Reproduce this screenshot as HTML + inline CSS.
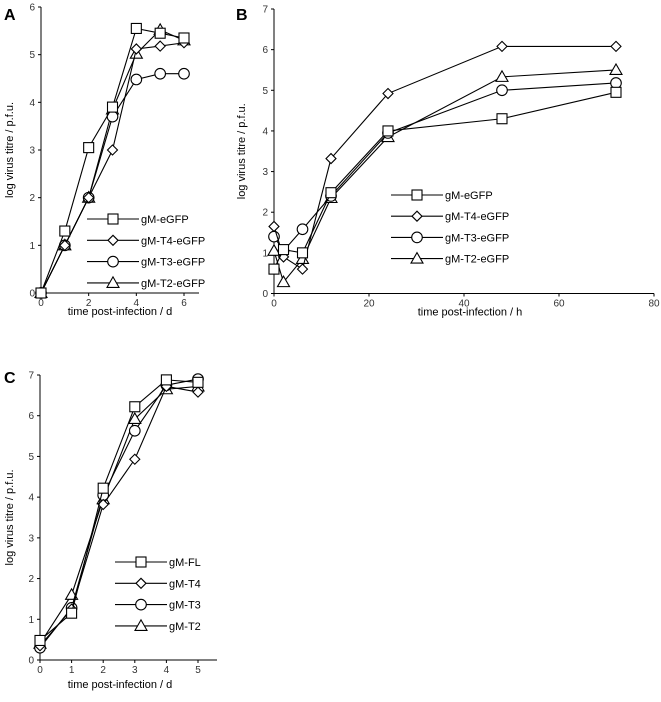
<!DOCTYPE html>
<html><head><meta charset="utf-8">
<style>
body{margin:0;background:#fff;}
svg{display:block;font-family:"Liberation Sans",sans-serif;}
</style></head>
<body>
<svg id="fig" width="661" height="702" viewBox="0 0 661 702" xmlns="http://www.w3.org/2000/svg"></svg>
<script>
// Panel A data
const aDays = [0,1,2,3,4,5,6];
const aEGFP = [0,1.3,3.05,3.9,5.55,5.45,5.35];
const aT4 = [0,1,2,3,5.12,5.18,5.25];
const aT3 = [0,1,2,3.7,4.48,4.6,4.6];
const aT2 = [0,1,2,3.85,5.02,5.52,5.3];
const aNames = ["gM-eGFP","gM-T4-eGFP","gM-T3-eGFP","gM-T2-eGFP"];
const aXTicks = [0,2,4,6];
const aYTicks = [0,1,2,3,4,5,6];
// Panel B data
const bHours = [0,2,6,12,24,48,72];
const bEGFP = [0.6,1.08,1.0,2.48,4.0,4.3,4.95];
const bT4 = [1.65,0.9,0.6,3.32,4.92,6.08,6.08];
const bT3 = [1.4,1.05,1.58,2.4,3.95,5.0,5.18];
const bT2 = [1.05,0.28,0.85,2.35,3.85,5.33,5.5];
const bNames = ["gM-eGFP","gM-T4-eGFP","gM-T3-eGFP","gM-T2-eGFP"];
const bXTicks = [0,20,40,60,80];
const bYTicks = [0,1,2,3,4,5,6,7];
// Panel C data
const cDays = [0,1,2,3,4,5];
const cFL = [0.48,1.15,4.22,6.22,6.88,6.82];
const cT4 = [0.35,1.25,3.82,4.93,6.72,6.58];
const cT3 = [0.3,1.28,4.05,5.63,6.75,6.9];
const cT2 = [0.4,1.6,3.95,5.92,6.65,6.72];
const cNames = ["gM-FL","gM-T4","gM-T3","gM-T2"];
const cXTicks = [0,1,2,3,4,5];
const cYTicks = [0,1,2,3,4,5,6,7];

const NS="http://www.w3.org/2000/svg";
const svg=document.getElementById('fig');
function mk(tag,attrs,parent){const e=document.createElementNS(NS,tag);for(const k in attrs)e.setAttribute(k,attrs[k]);(parent||svg).appendChild(e);return e;}
const shapes=["square","diamond","circle","triangle"];
function marker(g,shape,x,y){
  let e;
  if(shape==="square") e=mk('rect',{x:x-5,y:y-5,width:10,height:10},g);
  else if(shape==="diamond") e=mk('polygon',{points:`${x},${y-5} ${x+5},${y} ${x},${y+5} ${x-5},${y}`},g);
  else if(shape==="circle") e=mk('circle',{cx:x,cy:y,r:5.3},g);
  else e=mk('polygon',{points:`${x},${y-6} ${x+6},${y+4.5} ${x-6},${y+4.5}`},g);
  e.setAttribute('fill','#fff');e.setAttribute('stroke','#000');e.setAttribute('stroke-width','1.1');
  
  
  return e;
}
function panel(p){
  const g=mk('g',{});
  
  
  const sx=v=>p.x0+(v-p.xmin)/(p.xmax-p.xmin)*(p.x1-p.x0);
  const sy=v=>p.y0-(v-p.ymin)/(p.ymax-p.ymin)*(p.y0-p.y1);
  const lab=mk('text',{x:p.lx,y:p.ly,'font-size':16,'font-weight':'bold'},g);lab.textContent=p.id;
  
  const ya=mk('line',{x1:p.x0,y1:p.y0,x2:p.x0,y2:p.y1,stroke:'#000','stroke-width':1},g);
  
  const xa=mk('line',{x1:p.x0,y1:p.y0,x2:p.xend,y2:p.y0,stroke:'#000','stroke-width':1},g);
  
  p.yt.forEach(v=>{const y=sy(v);mk('line',{x1:p.x0-3,y1:y,x2:p.x0,y2:y,stroke:'#000'},g);
    const t=mk('text',{x:p.x0-6,y:y+3.5,'font-size':10,'text-anchor':'end',fill:'#333'},g);t.textContent=v;
    });
  p.xt.forEach(v=>{const x=sx(v);mk('line',{x1:x,y1:p.y0,x2:x,y2:p.y0+3,stroke:'#000'},g);
    const t=mk('text',{x:x,y:p.y0+13,'font-size':10,'text-anchor':'middle',fill:'#333'},g);t.textContent=v;
    });
  const xt=mk('text',{x:p.xtx,y:p.y0+p.xtdy,'font-size':11,'text-anchor':'middle'},g);xt.textContent=p.xtitle;
  
  const yc=(p.y0+p.y1)/2;
  const yt=mk('text',{x:p.ytx,y:yc,'font-size':11,'text-anchor':'middle',transform:`rotate(-90 ${p.ytx} ${yc})`},g);yt.textContent='log virus titre / p.f.u.';
  
  for(let i=p.series.length-1;i>=0;i--){
    const s=p.series[i];
    const sg=mk('g',{},g);
    
    
    const pl=mk('polyline',{points:p.xs.map((x,j)=>sx(x)+','+sy(s[j])).join(' '),fill:'none',stroke:'#000','stroke-width':1.1},sg);
    
    p.xs.forEach((x,j)=>marker(sg,shapes[i],sx(x),sy(s[j])));
  }
  const lg=mk('g',{},g);
  
  p.names.forEach((n,i)=>{
    const y=p.legY+i*p.legDy;
    const eg=mk('g',{},lg);
    
    mk('line',{x1:p.legX,y1:y,x2:p.legX+52,y2:y,stroke:'#000','stroke-width':1.1},eg);
    marker(eg,shapes[i],p.legX+26,y);
    const t=mk('text',{x:p.legX+54,y:y+4,'font-size':11},eg);t.textContent=n;
    
  });
}
panel({id:'A',lx:4,ly:20,x0:41,x1:184,xmin:0,xmax:6,xend:199,y0:293,y1:7,ymin:0,ymax:6,
  xt:aXTicks,yt:aYTicks,xs:aDays,series:[aEGFP,aT4,aT3,aT2],names:aNames,
  xtitle:'time post-infection / d',xtx:120,xtdy:22,ytx:13,legX:87,legY:219,legDy:21.3});
panel({id:'B',lx:236,ly:20,x0:274,x1:654,xmin:0,xmax:80,xend:654,y0:293.5,y1:9,ymin:0,ymax:7,
  xt:bXTicks,yt:bYTicks,xs:bHours,series:[bEGFP,bT4,bT3,bT2],names:bNames,
  xtitle:'time post-infection / h',xtx:470,xtdy:22,ytx:245,legX:391,legY:195,legDy:21.2});
panel({id:'C',lx:4,ly:383,x0:40,x1:198,xmin:0,xmax:5,xend:217,y0:660,y1:375,ymin:0,ymax:7,
  xt:cXTicks,yt:cYTicks,xs:cDays,series:[cFL,cT4,cT3,cT2],names:cNames,
  xtitle:'time post-infection / d',xtx:120,xtdy:28,ytx:13,legX:115,legY:562,legDy:21.3});
</script>
</body></html>
